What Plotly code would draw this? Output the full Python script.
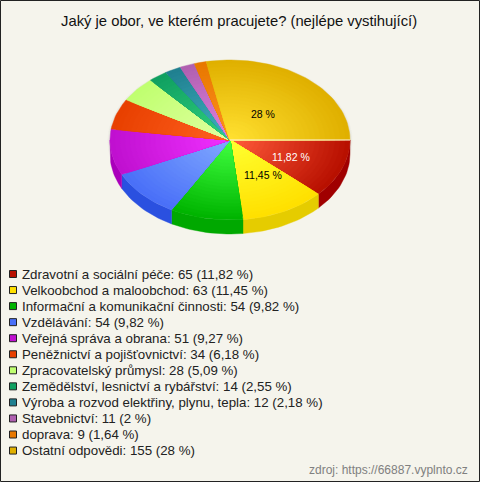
import math
import plotly.graph_objects as go

TITLE = "Jaký je obor, ve kterém pracujete? (nejlépe vystihující)"
SOURCE = "zdroj: https://66887.vyplnto.cz"
categories = ["Zdravotní a sociální péče", "Velkoobchod a maloobchod",
              "Informační a komunikační činnosti", "Vzdělávání",
              "Veřejná správa a obrana", "Peněžnictví a pojišťovnictví",
              "Zpracovatelský průmysl", "Zemědělství, lesnictví a rybářství",
              "Výroba a rozvod elektřiny, plynu, tepla", "Stavebnictví",
              "doprava", "Ostatní odpovědi"]
values = [65, 63, 54, 54, 51, 34, 28, 14, 12, 11, 9, 155]
percent_labels = ["11,82 %", "11,45 %", "9,82 %", "9,82 %", "9,27 %", "6,18 %",
                  "5,09 %", "2,55 %", "2,18 %", "2 %", "1,64 %", "28 %"]
outer_colors = ["#b81000", "#ffe000", "#00b400", "#4a70f8", "#c010d0", "#e84000",
                "#c0ff70", "#10a060", "#208090", "#b060b0", "#e87800", "#e0b000"]
inner_colors = ["#ff5a3a", "#ffff30", "#40ff40", "#80a8ff", "#f030ff", "#ff6020",
                "#e0ffa0", "#30d080", "#40b0c0", "#e080e0", "#ff9020", "#ffe030"]
wall_colors = ["#a00000", "#e5cc00", "#00a800", "#2a50e0", "#aa00bb", "#b03000",
               "#90c050", "#087848", "#106070", "#805080", "#b05800", "#b08800"]

CX, CY, RX, RY, DEPTH = 230, 140, 120, 80, 14
BG = "#f5f4ec"
RINGS = 24


def hex2rgb(h):
    return [int(h[i:i + 2], 16) for i in (1, 3, 5)]


def mix(a, b, f):
    A, B = hex2rgb(a), hex2rgb(b)
    return "rgb(%d,%d,%d)" % tuple(round(A[i] + (B[i] - A[i]) * f) for i in range(3))


def arc(t0, t1, r=1.0, dy=0.0):
    n = max(2, int(abs(t1 - t0) / 2) + 2)
    ts = [t0 + (t1 - t0) * i / (n - 1) for i in range(n)]
    return ([CX + r * RX * math.cos(math.radians(t)) for t in ts],
            [CY + dy + r * RY * math.sin(math.radians(t)) for t in ts])


def poly(xs, ys, color):
    return go.Scatter(x=xs, y=ys, mode="lines", fill="toself", fillcolor=color,
                      line=dict(color=color, width=0.4), hoverinfo="skip",
                      showlegend=False)


total = sum(values)
edges = [0.0]
for v in values:
    edges.append(edges[-1] + 360.0 * v / total)

fig = go.Figure()

# soft shadow
for r, col in ((1.018, "#eeede5"), (1.008, "#e4e3db")):
    xs, ys = arc(0, 360, r, 1)
    fig.add_trace(poly(xs, ys, col))

# side wall
for i, col in enumerate(wall_colors):
    t0, t1 = edges[i], min(edges[i + 1], 180)
    if t0 >= 180:
        continue
    x1, y1 = arc(t0, t1)
    x2, y2 = arc(t1, t0, 1.0, DEPTH)
    fig.add_trace(poly(x1 + x2 + x1[:1], y1 + y2 + y1[:1], col))

# top, shaded outer to inner
for i in range(len(values)):
    t0, t1 = edges[i], edges[i + 1]
    for k in range(RINGS):
        f = k / (RINGS - 1)
        r = 1.0 - k / RINGS
        xs, ys = arc(t0, t1, r)
        fig.add_trace(poly([CX] + xs + [CX], [CY] + ys + [CY],
                           mix(outer_colors[i], inner_colors[i], f)))

# highlight line at the start of the first slice
xs, ys = arc(0, 0.01)
fig.add_trace(go.Scatter(x=[CX, xs[0]], y=[CY, ys[0]], mode="lines",
                         line=dict(color="#fff4e8", width=1.2), hoverinfo="skip",
                         showlegend=False))

# legend
LEG_TOP, LEG_STEP = 274, 16.05
row_y = [LEG_TOP + LEG_STEP * i for i in range(len(categories))]
fig.add_trace(go.Scatter(
    x=[13] * len(categories), y=row_y, mode="markers",
    marker=dict(symbol="square", size=7, color=outer_colors,
                line=dict(color="#222222", width=1)),
    hoverinfo="skip", showlegend=False))

ann = []
for y, c, v, p in zip(row_y, categories, values, percent_labels):
    ann.append(dict(x=20, y=y, text=f"{c}: {v} ({p})", xanchor="left", yanchor="middle",
                    showarrow=False, font=dict(size=13.3, color="#222222")))
ann.append(dict(x=238.5, y=21, text=TITLE, xanchor="center", yanchor="middle", showarrow=False,
                font=dict(size=14.8, color="#111111")))
ann.append(dict(x=470, y=470, text=SOURCE, xanchor="right", yanchor="middle", showarrow=False,
                font=dict(size=12, color="#808080")))
for (x, y, idx, col) in ((263, 114, 11, "#000000"), (291, 157, 0, "#ffffff"), (263, 175, 1, "#000000")):
    ann.append(dict(x=x, y=y, text=percent_labels[idx], showarrow=False,
                    font=dict(size=10.5, color=col)))

fig.update_layout(
    width=480, height=482, margin=dict(l=0, r=0, t=0, b=0), autosize=False,
    paper_bgcolor=BG, plot_bgcolor=BG,
    font=dict(family="Liberation Sans, Arial, sans-serif"),
    xaxis=dict(range=[0, 480], visible=False, fixedrange=True),
    yaxis=dict(range=[482, 0], visible=False, fixedrange=True),
    annotations=ann,
    shapes=[dict(type="rect", x0=0.5, y0=0.5, x1=479.5, y1=481.5,
                 line=dict(color="#222222", width=1), fillcolor="rgba(0,0,0,0)", layer="above")],
    showlegend=False,
)
fig.write_html("out.html", config=dict(displayModeBar=False),
               post_script="document.body.style.margin='0';document.documentElement.style.overflow='hidden';")
